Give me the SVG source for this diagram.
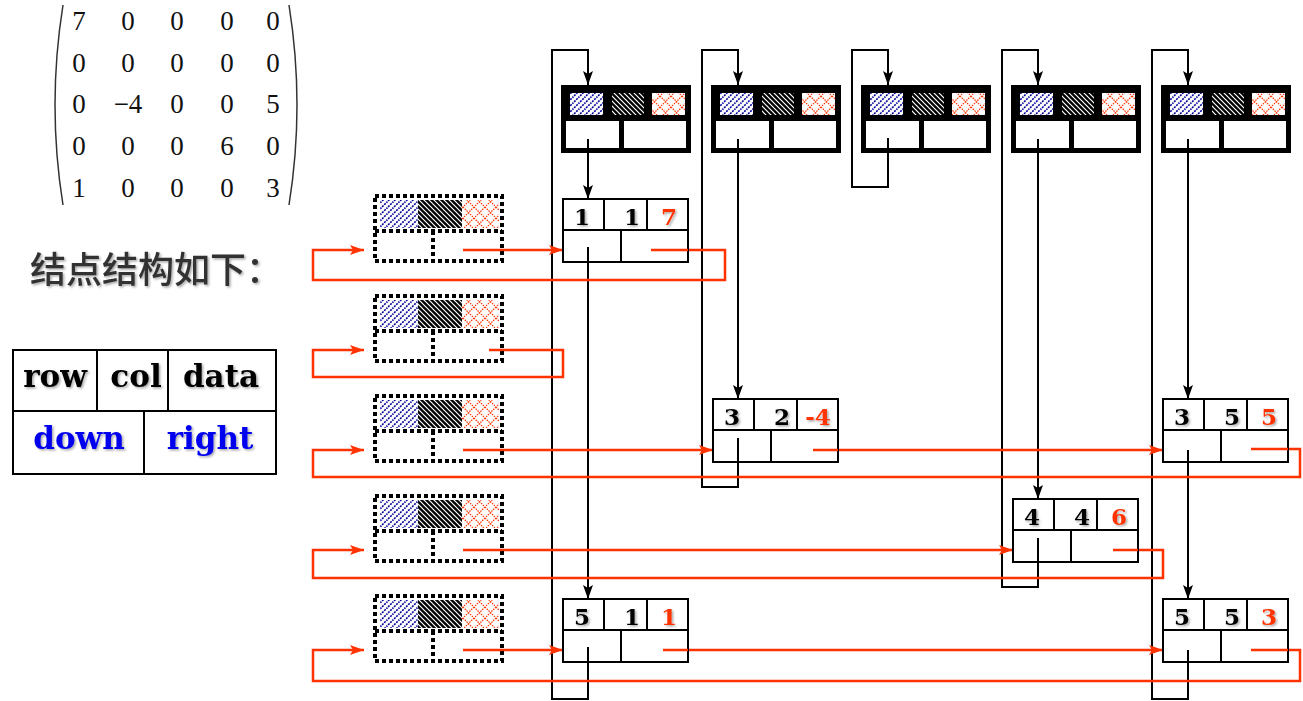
<svg xmlns="http://www.w3.org/2000/svg" xmlns:xlink="http://www.w3.org/1999/xlink" width="1303" height="701" viewBox="0 0 1303 701">
<style>
.blk{fill:none;stroke:#000;stroke-width:2}
.red{fill:none;stroke:#FF3300;stroke-width:2.5}
.cell{fill:#fff;stroke:#000;stroke-width:2}
.div{stroke:#000;stroke-width:2}
.num{font-family:"DejaVu Serif",serif;font-weight:bold;font-size:23px;fill:#000;text-anchor:middle;filter:url(#sh)}
.dat{fill:#FF3300}
.mx{font-family:"Liberation Serif",serif;font-size:27px;fill:#111;text-anchor:middle}
.lg{font-family:"DejaVu Serif",serif;font-weight:bold;font-size:31px;fill:#000;text-anchor:middle;filter:url(#sh)}
.lgb{fill:#0000EE}
.cn{font-family:"Noto Sans CJK SC",sans-serif;font-size:36px;font-weight:500;fill:#333;filter:url(#sh)}
.dot{fill:none;stroke:#000;stroke-width:4;stroke-dasharray:4 3}
</style>
<defs>
<filter id="sh" x="-10%" y="-10%" width="130%" height="140%">
<feDropShadow dx="1.5" dy="1.5" stdDeviation="1" flood-color="#000" flood-opacity="0.35"/>
</filter>
<pattern id="pBlue" width="6" height="6" patternUnits="userSpaceOnUse">
<rect width="6" height="6" fill="#fff"/>
<path d="M-1,7 L7,-1 M-1,1 L1,-1 M5,7 L7,5" stroke="#000099" stroke-width="1.6" stroke-dasharray="2 1"/>
</pattern>
<pattern id="pBlack" width="5" height="5" patternUnits="userSpaceOnUse">
<rect width="5" height="5" fill="#000"/>
<path d="M-1,-1 L6,6 M-1,4 L1,6 M4,-1 L6,1" stroke="#fff" stroke-width="1.2"/>
</pattern>
<pattern id="pRed" width="11" height="11" patternUnits="userSpaceOnUse">
<rect width="11" height="11" fill="#fff"/>
<path d="M0,0 L11,11 M11,0 L0,11" stroke="#FF3300" stroke-width="1.2" stroke-dasharray="1.5 1"/>
</pattern>
<marker id="ab" viewBox="0 0 14 10" refX="14" refY="5" markerWidth="14" markerHeight="10" markerUnits="userSpaceOnUse" orient="auto">
<path d="M0,0 L14,5 L0,10 L3,5 z" fill="#000"/>
</marker>
<marker id="ar" viewBox="0 0 14 10" refX="14" refY="5" markerWidth="14" markerHeight="10" markerUnits="userSpaceOnUse" orient="auto">
<path d="M0,0 L14,5 L0,10 L3,5 z" fill="#FF3300"/>
</marker>
<g id="hdr">
<rect x="0" y="0" width="130" height="68" fill="#000"/>
<rect x="9" y="8" width="33" height="22" fill="url(#pBlue)"/>
<rect x="51" y="8" width="32" height="22" fill="url(#pBlack)"/>
<rect x="91" y="8" width="33" height="22" fill="url(#pRed)"/>
<rect x="5" y="36" width="53" height="27" fill="#fff"/>
<rect x="63" y="36" width="62" height="27" fill="#fff"/>
</g>
<g id="rhd">
<rect x="0" y="0" width="127" height="65" fill="#fff"/>
<rect x="5" y="4" width="38" height="28" fill="url(#pBlue)"/>
<rect x="43" y="4" width="44" height="28" fill="url(#pBlack)"/>
<rect x="87" y="4" width="37" height="28" fill="url(#pRed)"/>
<rect x="0" y="0" width="127" height="65" class="dot"/>
<line x1="0" y1="35" x2="127" y2="35" class="dot"/>
<line x1="58" y1="35" x2="58" y2="65" class="dot"/>
</g>
<g id="nd">
<rect x="0" y="0" width="125" height="63" class="cell"/>
<line x1="0" y1="31" x2="125" y2="31" class="div"/>
<line x1="41" y1="0" x2="41" y2="31" class="div"/>
<line x1="84" y1="0" x2="84" y2="31" class="div"/>
<line x1="58" y1="31" x2="58" y2="63" class="div"/>
</g>
</defs>
<rect width="1303" height="701" fill="#fff"/>

<g id="matrix">
<path d="M63,5 Q55,55 55,105 Q55,155 63,205" fill="none" stroke="#333" stroke-width="1.5"/>
<path d="M289,5 Q297,55 297,105 Q297,155 289,205" fill="none" stroke="#333" stroke-width="1.5"/>
<text class="mx" x="79" y="30">7</text><text class="mx" x="128" y="30">0</text><text class="mx" x="177" y="30">0</text><text class="mx" x="227" y="30">0</text><text class="mx" x="273" y="30">0</text>
<text class="mx" x="79" y="72">0</text><text class="mx" x="128" y="72">0</text><text class="mx" x="177" y="72">0</text><text class="mx" x="227" y="72">0</text><text class="mx" x="273" y="72">0</text>
<text class="mx" x="79" y="113">0</text><text class="mx" x="128" y="113">−4</text><text class="mx" x="177" y="113">0</text><text class="mx" x="227" y="113">0</text><text class="mx" x="273" y="113">5</text>
<text class="mx" x="79" y="155">0</text><text class="mx" x="128" y="155">0</text><text class="mx" x="177" y="155">0</text><text class="mx" x="227" y="155">6</text><text class="mx" x="273" y="155">0</text>
<text class="mx" x="79" y="197">1</text><text class="mx" x="128" y="197">0</text><text class="mx" x="177" y="197">0</text><text class="mx" x="227" y="197">0</text><text class="mx" x="273" y="197">3</text>
</g>

<g id="title">
<text class="cn" x="30" y="283">结点结构如下：</text>
</g>

<g id="legend">
<rect x="13" y="350" width="263" height="124" fill="#fff" stroke="#000" stroke-width="2"/>
<line x1="13" y1="411" x2="276" y2="411" class="div"/>
<line x1="97" y1="350" x2="97" y2="411" class="div"/>
<line x1="168" y1="350" x2="168" y2="411" class="div"/>
<line x1="144" y1="411" x2="144" y2="474" class="div"/>
<text class="lg" x="55" y="387">row</text>
<text class="lg" x="136" y="387">col</text>
<text class="lg" x="221" y="387">data</text>
<text class="lg lgb" x="79" y="449">down</text>
<text class="lg lgb" x="210" y="449">right</text>
</g>

<g id="connectors">
<polyline class="blk" points="588,647 588,699 552,699 552,50 588,50 588,85" marker-end="url(#ab)"/>
<polyline class="blk" points="738,438 738,487 702,487 702,50 738,50 738,85" marker-end="url(#ab)"/>
<polyline class="blk" points="888,138 888,187 852,187 852,50 888,50 888,85" marker-end="url(#ab)"/>
<polyline class="blk" points="1038,538 1038,587 1002,587 1002,50 1038,50 1038,85" marker-end="url(#ab)"/>
<polyline class="blk" points="1188,650 1188,699 1152,699 1152,50 1188,50 1188,85" marker-end="url(#ab)"/>
<line class="blk" x1="588" y1="139" x2="588" y2="199" marker-end="url(#ab)"/>
<line class="blk" x1="588" y1="247" x2="588" y2="599" marker-end="url(#ab)"/>
<line class="blk" x1="738" y1="139" x2="738" y2="399" marker-end="url(#ab)"/>
<line class="blk" x1="1038" y1="139" x2="1038" y2="499" marker-end="url(#ab)"/>
<line class="blk" x1="1188" y1="139" x2="1188" y2="399" marker-end="url(#ab)"/>
<line class="blk" x1="1188" y1="450" x2="1188" y2="599" marker-end="url(#ab)"/>
<line class="red" x1="463" y1="250" x2="563" y2="250" marker-end="url(#ar)"/>
<polyline class="red" points="651,250 725,250 725,280 313,280 313,250 364,250" marker-end="url(#ar)"/>
<polyline class="red" points="489,350 563,350 563,377 313,377 313,350 364,350" marker-end="url(#ar)"/>
<line class="red" x1="463" y1="450" x2="713" y2="450" marker-end="url(#ar)"/>
<line class="red" x1="813" y1="450" x2="1163" y2="450" marker-end="url(#ar)"/>
<polyline class="red" points="1251,449 1300,449 1300,477 313,477 313,450 364,450" marker-end="url(#ar)"/>
<line class="red" x1="463" y1="550" x2="1013" y2="550" marker-end="url(#ar)"/>
<polyline class="red" points="1113,550 1163,550 1163,578 313,578 313,550 364,550" marker-end="url(#ar)"/>
<line class="red" x1="463" y1="650" x2="563" y2="650" marker-end="url(#ar)"/>
<line class="red" x1="663" y1="650" x2="1163" y2="650" marker-end="url(#ar)"/>
<polyline class="red" points="1251,650 1300,650 1300,681 313,681 313,650 364,650" marker-end="url(#ar)"/>
</g>

<g id="colHead1"><use xlink:href="#hdr" x="561" y="85"/></g>
<g id="colHead2"><use xlink:href="#hdr" x="711" y="85"/></g>
<g id="colHead3"><use xlink:href="#hdr" x="861" y="85"/></g>
<g id="colHead4"><use xlink:href="#hdr" x="1011" y="85"/></g>
<g id="colHead5"><use xlink:href="#hdr" x="1161" y="85"/></g>

<g id="rowHead1"><use xlink:href="#rhd" x="375" y="196"/></g>
<g id="rowHead2"><use xlink:href="#rhd" x="375" y="296"/></g>
<g id="rowHead3"><use xlink:href="#rhd" x="375" y="396"/></g>
<g id="rowHead4"><use xlink:href="#rhd" x="375" y="496"/></g>
<g id="rowHead5"><use xlink:href="#rhd" x="375" y="596"/></g>

<g id="n117"><use xlink:href="#nd" x="563" y="199"/>
<text class="num" x="582" y="225">1</text><text class="num" x="632" y="225">1</text><text class="num dat" x="669" y="225">7</text></g>
<g id="n32m4"><use xlink:href="#nd" x="713" y="399"/>
<text class="num" x="732" y="425">3</text><text class="num" x="782" y="425">2</text><text class="num dat" x="818" y="425">-4</text></g>
<g id="n355"><use xlink:href="#nd" x="1163" y="399"/>
<text class="num" x="1182" y="425">3</text><text class="num" x="1232" y="425">5</text><text class="num dat" x="1269" y="425">5</text></g>
<g id="n446"><use xlink:href="#nd" x="1013" y="499"/>
<text class="num" x="1032" y="525">4</text><text class="num" x="1082" y="525">4</text><text class="num dat" x="1119" y="525">6</text></g>
<g id="n511"><use xlink:href="#nd" x="563" y="599"/>
<text class="num" x="582" y="625">5</text><text class="num" x="632" y="625">1</text><text class="num dat" x="669" y="625">1</text></g>
<g id="n553"><use xlink:href="#nd" x="1163" y="599"/>
<text class="num" x="1182" y="625">5</text><text class="num" x="1232" y="625">5</text><text class="num dat" x="1269" y="625">3</text></g>

<g id="ptrs">
<line class="blk" x1="588" y1="247" x2="588" y2="262"/>
<line class="blk" x1="738" y1="438" x2="738" y2="462"/>
<line class="blk" x1="1038" y1="538" x2="1038" y2="562"/>
<line class="blk" x1="1188" y1="450" x2="1188" y2="462"/>
<line class="blk" x1="588" y1="647" x2="588" y2="662"/>
<line class="blk" x1="1188" y1="650" x2="1188" y2="662"/>
<line class="blk" x1="588" y1="139" x2="588" y2="153"/>
<line class="blk" x1="738" y1="139" x2="738" y2="153"/>
<line class="blk" x1="888" y1="138" x2="888" y2="153"/>
<line class="blk" x1="1038" y1="139" x2="1038" y2="153"/>
<line class="blk" x1="1188" y1="139" x2="1188" y2="153"/>
<line class="red" x1="651" y1="250" x2="688" y2="250"/>
<line class="red" x1="813" y1="450" x2="838" y2="450"/>
<line class="red" x1="1251" y1="449" x2="1288" y2="449"/>
<line class="red" x1="1113" y1="550" x2="1138" y2="550"/>
<line class="red" x1="663" y1="650" x2="688" y2="650"/>
<line class="red" x1="1251" y1="650" x2="1288" y2="650"/>
<line class="red" x1="463" y1="250" x2="502" y2="250"/>
<line class="red" x1="489" y1="350" x2="502" y2="350"/>
<line class="red" x1="463" y1="450" x2="502" y2="450"/>
<line class="red" x1="463" y1="550" x2="502" y2="550"/>
<line class="red" x1="463" y1="650" x2="502" y2="650"/>
</g>
</svg>
